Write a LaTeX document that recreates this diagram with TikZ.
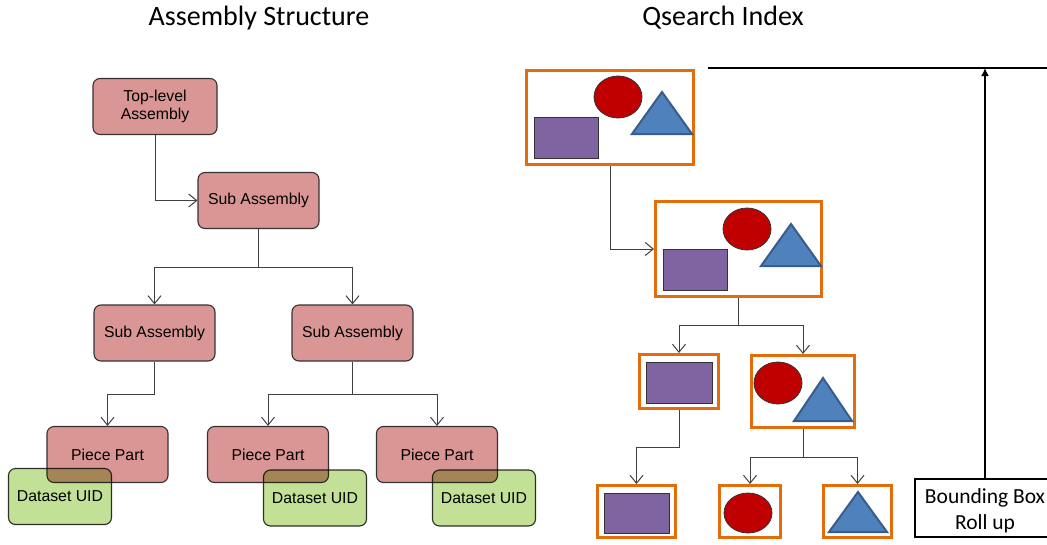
\documentclass[tikz,border=0pt]{standalone}
\usepackage{fontspec}
\setmainfont{Liberation Sans}
\newfontfamily\calibri{Carlito}
\usetikzlibrary{arrows.meta}

\definecolor{partpink}{HTML}{D99694}
\definecolor{uidgreen}{HTML}{C3E196}
\definecolor{qorange}{HTML}{E46C0A}
\definecolor{qpurple}{HTML}{8064A2}
\definecolor{qred}{HTML}{C00000}
\definecolor{qblue}{HTML}{4F81BD}
\definecolor{qblueline}{HTML}{385D8A}

\tikzset{
    part/.style={draw=black!80, line width=1.1pt, rounded corners=7pt, fill=partpink,
        minimum width=121pt, minimum height=56pt, align=center,
        font=\fontsize{15.8}{17.5}\selectfont},
    uid/.style={part, fill=uidgreen, minimum width=103pt},
    conn/.style={draw=black!75, line width=1pt, ->, >={Straight Barb[length=8pt,width=13pt]}},
    qbox/.style={draw=qorange, line width=3pt, fill=white, inner sep=0pt},
    prect/.style={draw=black!80, line width=1pt, fill=qpurple},
    rcirc/.style={draw=black!80, line width=0.8pt, fill=qred},
    btri/.style={draw=qblueline, line width=2pt, fill=qblue},
    title/.style={anchor=base, font=\calibri\fontsize{28}{32}\selectfont},
}

\begin{document}
\begin{tikzpicture}[x=1pt, y=-1pt]
    % page = reference size, y runs downwards like the screenshot
    \useasboundingbox (0,0) rectangle (1047,544);
    \clip (0,0) rectangle (1047,544);

    \node[title] (ttlA) at (259,25) {Assembly Structure};
    \node[title] (ttlQ) at (723,25) {Qsearch Index};

    % Assembly tree:
    \node[part, minimum width=124pt] (top) at (155,106.5) {Top-level\\Assembly};
    \node[part] (sub) at (258.5,200.5) {Sub Assembly};
    \node[part] (saL) at (154.5,333) {Sub Assembly};
    \node[part] (saR) at (352.5,333) {Sub Assembly};
    \foreach \n/\px in {A/107.5, B/268, C/437}
        \node[part] (pp\n) at (\px,454.5) {Piece Part};
    % the uid boxes multiply onto the parts, so the overlap turns brown:
    \begin{scope}[blend mode=multiply]
        \node[uid] (dsA) at (60,496.5) {Dataset UID};
        \node[uid] (dsB) at (315,498) {Dataset UID};
        \node[uid] (dsC) at (484,498) {Dataset UID};
    \end{scope}

    \draw[conn] (top.south) |- (sub.west);
    \draw[conn] (sub.south) -- ++(0,38) -| (saL.north);
    \draw[conn] (sub.south) -- ++(0,38) -| (saR.north);
    \draw[conn] (saL.south) -- ++(0,33) -| (ppA.north);
    \draw[conn] (saR.south) -- ++(0,33) -| (ppB.north);
    \draw[conn] (saR.south) -- ++(0,33) -| (ppC.north);

    % Qsearch index: orange frames first, the shapes go on top
    \node[qbox, minimum width=167pt, minimum height=94pt] (qTop) at (610,117.5) {};
    \node[qbox, minimum width=166pt, minimum height=95pt] (qSub) at (738.5,249) {};
    \node[qbox, minimum width=79pt, minimum height=54pt] (qRect) at (679,381.5) {};
    \node[qbox, minimum width=103pt, minimum height=72pt] (qCT) at (803,391.5) {};
    \node[qbox, minimum width=78pt, minimum height=52pt] (qRectB) at (636.5,511.5) {};
    \node[qbox, minimum width=61pt, minimum height=52pt] (qCircB) at (750,511.5) {};
    \node[qbox, minimum width=68pt, minimum height=52pt] (qTriB) at (857.5,511.5) {};

    \draw[prect] (534,117) rectangle (598,158);
    \draw[rcirc] (618,97) ellipse [x radius=24, y radius=21];
    \draw[btri] (662,92) -- ++(30,42) -- ++(-60,0) -- cycle;

    \draw[prect] (663,249) rectangle (727,290);
    \draw[rcirc] (747,229) ellipse [x radius=24, y radius=21];
    \draw[btri] (791,224) -- ++(30,42) -- ++(-60,0) -- cycle;

    \draw[prect] (646,362) rectangle (712,403);
    \draw[rcirc] (778,383) ellipse [x radius=24, y radius=21];
    \draw[btri] (823,378) -- ++(29,43) -- ++(-58,0) -- cycle;

    \draw[prect] (604,493) rectangle (669,533);
    \draw[rcirc] (748,513) ellipse [x radius=24, y radius=20];
    \draw[btri] (858,492) -- ++(29,40) -- ++(-58,0) -- cycle;

    \draw[conn] (qTop.south) |- (qSub.west);
    \draw[conn] (qSub.south) -- ++(0,27) -| (qRect.north);
    \draw[conn] (qSub.south) -- ++(0,27) -| (qCT.north);
    \draw[conn] (qRect.south) -- ++(0,37) -| (qRectB.north);
    \draw[conn] (qCT.south) -- ++(0,28) -| (qCircB.north);
    \draw[conn] (qCT.south) -- ++(0,28) -| (qTriB.north);

    % roll up of the bounding boxes
    \node[draw, line width=2pt, minimum width=140pt, minimum height=58pt] (rollup) at (985,508) {};
    \node[align=center, font=\calibri\fontsize{21.5}{26}\selectfont] (rolltxt)
        at ([yshift=-3pt]rollup.center) {Bounding Box\\Roll up};
    \coordinate (barL) at (708,68);
    \coordinate (barR) at (1047,68);
    \draw[line width=2pt] (barL) -- (barR);
    \draw[line width=1.8pt, -{Latex[length=8pt,width=8pt]}] (rollup.north) -- (rollup.north |- barL);
\end{tikzpicture}
\end{document}
